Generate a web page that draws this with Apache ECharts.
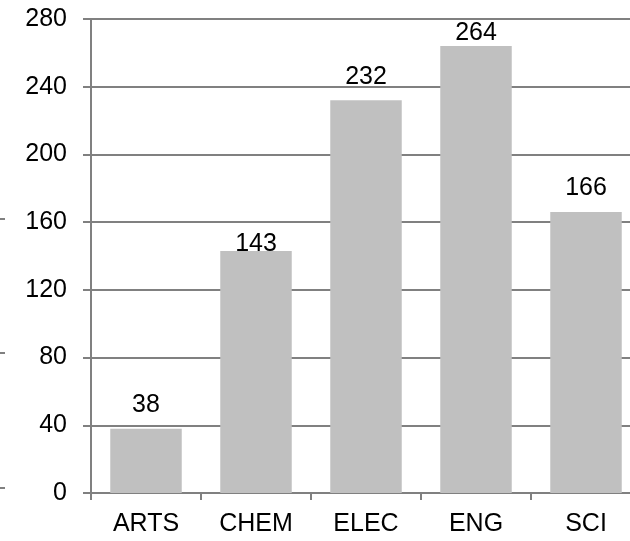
<!DOCTYPE html>
<html>
<head>
<meta charset="utf-8">
<script src="https://cdn.jsdelivr.net/npm/echarts@6/dist/echarts.min.js"></script>
<style>
html,body{margin:0;padding:0;background:#fff;overflow:hidden;}
#chart{width:660px;height:541px;}
</style>
</head>
<body>
<div id="chart"></div>
<script>
const categories = ['ARTS', 'CHEM', 'ELEC', 'ENG', 'SCI'];
const values = [38, 143, 232, 264, 166];
const yTicks = [0, 40, 80, 120, 160, 200, 240, 280];

const FONT = '"Liberation Sans", Arial, sans-serif';
const GRAY = '#808080';
const labelOffsets = {1: [0, 17], 3: [0, 11]};

const chart = echarts.init(document.getElementById('chart'), null, {renderer: 'canvas'});
chart.setOption({
  animation: false,
  grid: {left: 91, top: 19, width: 550, height: 474, containLabel: false},
  xAxis: {
    type: 'category',
    data: categories,
    axisLine: {lineStyle: {color: GRAY, width: 2}},
    axisTick: {show: true, length: 7, lineStyle: {color: GRAY, width: 2}},
    axisLabel: {color: '#000', fontFamily: FONT, fontSize: 25, margin: 19}
  },
  yAxis: {
    type: 'value',
    min: yTicks[0],
    max: yTicks[yTicks.length - 1],
    interval: yTicks[1] - yTicks[0],
    axisLine: {show: true, lineStyle: {color: GRAY, width: 2}},
    axisTick: {show: true, length: 8, lineStyle: {color: GRAY, width: 2}},
    splitLine: {show: true, lineStyle: {color: GRAY, width: 2}},
    axisLabel: {color: '#000', fontFamily: FONT, fontSize: 25, margin: 24}
  },
  series: [{
    type: 'bar',
    data: values.map((v, i) => labelOffsets[i] ? {value: v, label: {offset: labelOffsets[i]}} : v),
    barCategoryGap: '35%',
    itemStyle: {color: '#c0c0c0'},
    label: {show: true, position: 'top', distance: 11, color: '#000', fontFamily: FONT, fontSize: 25}
  }],
  graphic: [
    {type: 'line', shape: {x1: 0, y1: 219, x2: 5, y2: 219}, style: {stroke: GRAY, lineWidth: 2}},
    {type: 'line', shape: {x1: 0, y1: 353, x2: 5, y2: 353}, style: {stroke: GRAY, lineWidth: 2}},
    {type: 'line', shape: {x1: 0, y1: 488, x2: 5, y2: 488}, style: {stroke: GRAY, lineWidth: 2}}
  ]
});
</script>
</body>
</html>
